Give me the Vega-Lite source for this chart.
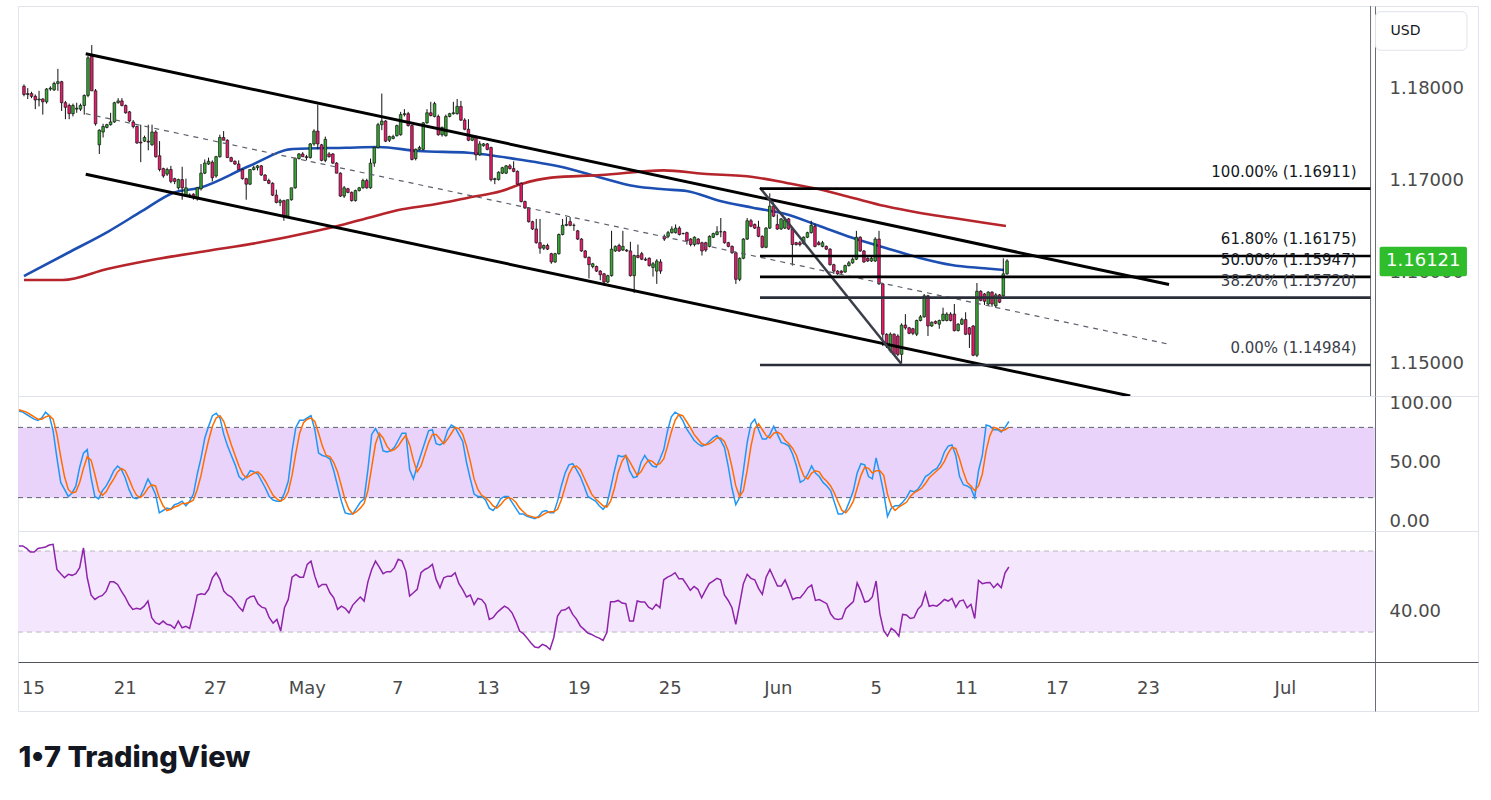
{
  "$schema": "https://vega.github.io/schema/vega-lite/v6.json",
  "padding": {"left": 15, "top": 5, "right": 0, "bottom": 0},
  "background": "white",
  "bounds": "flush",
  "spacing": 0,
  "title": {
    "text": "1•7  TradingView",
    "orient": "bottom",
    "anchor": "start",
    "font": "Inter",
    "fontSize": 29,
    "fontWeight": 800,
    "color": "#131722",
    "baseline": "top",
    "offset": 30,
    "dx": 3
  },
  "datasets": {
    "candles": [
      {"i":0,"o":1.1803,"h":1.1805,"l":1.1792,"c":1.1794,"k":94,"d":95,"r":72.5},
      {"i":1,"o":1.1794,"h":1.1801,"l":1.1789,"c":1.1795,"k":93,"d":94,"r":72.5},
      {"i":2,"o":1.1795,"h":1.1797,"l":1.179,"c":1.1792,"k":91,"d":93,"r":71.3},
      {"i":3,"o":1.1792,"h":1.1794,"l":1.1778,"c":1.1788,"k":89,"d":91,"r":69.5},
      {"i":4,"o":1.1788,"h":1.1798,"l":1.1781,"c":1.1789,"k":87,"d":89,"r":69.5},
      {"i":5,"o":1.1789,"h":1.179,"l":1.1772,"c":1.1786,"k":86,"d":87,"r":71.3},
      {"i":6,"o":1.1786,"h":1.1801,"l":1.1784,"c":1.18,"k":88,"d":87,"r":71.6},
      {"i":7,"o":1.18,"h":1.1803,"l":1.1798,"c":1.1801,"k":93,"d":89,"r":72},
      {"i":8,"o":1.1799,"h":1.1808,"l":1.1798,"c":1.1806,"k":90,"d":90,"r":73},
      {"i":9,"o":1.1806,"h":1.1822,"l":1.1798,"c":1.1808,"k":77,"d":87,"r":73.3},
      {"i":10,"o":1.1808,"h":1.1809,"l":1.1776,"c":1.1785,"k":54,"d":74,"r":60.9},
      {"i":11,"o":1.1785,"h":1.1787,"l":1.1767,"c":1.178,"k":33,"d":55,"r":58.8},
      {"i":12,"o":1.1782,"h":1.1784,"l":1.1767,"c":1.1773,"k":27,"d":38,"r":56.8},
      {"i":13,"o":1.1773,"h":1.1784,"l":1.177,"c":1.1782,"k":21,"d":27,"r":58.5},
      {"i":14,"o":1.1778,"h":1.1785,"l":1.1774,"c":1.1779,"k":24,"d":24,"r":58},
      {"i":15,"o":1.1778,"h":1.1784,"l":1.1776,"c":1.1782,"k":30,"d":25,"r":58.8},
      {"i":16,"o":1.1782,"h":1.1794,"l":1.1772,"c":1.1793,"k":46,"d":33,"r":61.8},
      {"i":17,"o":1.1793,"h":1.1836,"l":1.1791,"c":1.1834,"k":58,"d":45,"r":71.6},
      {"i":18,"o":1.1836,"h":1.1848,"l":1.1798,"c":1.1798,"k":61,"d":55,"r":56.8},
      {"i":19,"o":1.1798,"h":1.18,"l":1.176,"c":1.1762,"k":37,"d":52,"r":48.3},
      {"i":20,"o":1.1739,"h":1.1756,"l":1.1729,"c":1.1755,"k":21,"d":40,"r":46.1},
      {"i":21,"o":1.1753,"h":1.1762,"l":1.1747,"c":1.1759,"k":19,"d":26,"r":47.4},
      {"i":22,"o":1.1758,"h":1.1762,"l":1.1757,"c":1.1761,"k":26,"d":22,"r":48.1},
      {"i":23,"o":1.1761,"h":1.1774,"l":1.176,"c":1.1764,"k":30,"d":25,"r":50.2},
      {"i":24,"o":1.1764,"h":1.1786,"l":1.1763,"c":1.1785,"k":36,"d":31,"r":54.8},
      {"i":25,"o":1.1785,"h":1.179,"l":1.1784,"c":1.1787,"k":43,"d":36,"r":54.8},
      {"i":26,"o":1.1787,"h":1.179,"l":1.1781,"c":1.1782,"k":47,"d":42,"r":53.5},
      {"i":27,"o":1.1782,"h":1.1783,"l":1.1773,"c":1.1774,"k":44,"d":45,"r":50.2},
      {"i":28,"o":1.1775,"h":1.1776,"l":1.1764,"c":1.1765,"k":37,"d":43,"r":47.3},
      {"i":29,"o":1.1764,"h":1.1766,"l":1.1757,"c":1.1759,"k":27,"d":36,"r":43.6},
      {"i":30,"o":1.1759,"h":1.176,"l":1.174,"c":1.1741,"k":20,"d":28,"r":41.2},
      {"i":31,"o":1.1742,"h":1.1761,"l":1.172,"c":1.1741,"k":19,"d":22,"r":41.7},
      {"i":32,"o":1.1743,"h":1.1749,"l":1.1742,"c":1.1747,"k":21,"d":20,"r":41.3},
      {"i":33,"o":1.1743,"h":1.1761,"l":1.1733,"c":1.1742,"k":28,"d":23,"r":42.8},
      {"i":34,"o":1.1739,"h":1.1761,"l":1.1738,"c":1.1753,"k":36,"d":28,"r":45.3},
      {"i":35,"o":1.1753,"h":1.1755,"l":1.1725,"c":1.1726,"k":30,"d":31,"r":37.1},
      {"i":36,"o":1.1727,"h":1.1743,"l":1.171,"c":1.1712,"k":23,"d":30,"r":34.6},
      {"i":37,"o":1.1713,"h":1.1714,"l":1.1703,"c":1.1705,"k":7,"d":20,"r":33.8},
      {"i":38,"o":1.1707,"h":1.1714,"l":1.1705,"c":1.1712,"k":9,"d":13,"r":35.4},
      {"i":39,"o":1.1712,"h":1.1716,"l":1.1697,"c":1.1699,"k":11,"d":9,"r":33.8},
      {"i":40,"o":1.1702,"h":1.1703,"l":1.1696,"c":1.1699,"k":10,"d":10,"r":33.4},
      {"i":41,"o":1.1692,"h":1.1702,"l":1.169,"c":1.1701,"k":14,"d":12,"r":31.8},
      {"i":42,"o":1.1701,"h":1.1715,"l":1.1679,"c":1.1692,"k":15,"d":13,"r":35.4},
      {"i":43,"o":1.1683,"h":1.1702,"l":1.1682,"c":1.1692,"k":17,"d":15,"r":32.1},
      {"i":44,"o":1.1684,"h":1.1686,"l":1.1681,"c":1.1684,"k":13,"d":15,"r":32.8},
      {"i":45,"o":1.1685,"h":1.1686,"l":1.1679,"c":1.1681,"k":17,"d":16,"r":31.8},
      {"i":46,"o":1.168,"h":1.1693,"l":1.1678,"c":1.1692,"k":23,"d":18,"r":39.5},
      {"i":47,"o":1.1691,"h":1.1718,"l":1.1689,"c":1.1708,"k":40,"d":27,"r":48.3},
      {"i":48,"o":1.1708,"h":1.1723,"l":1.1707,"c":1.1719,"k":54,"d":39,"r":48.9},
      {"i":49,"o":1.1718,"h":1.1725,"l":1.1717,"c":1.1721,"k":71,"d":55,"r":48.6},
      {"i":50,"o":1.172,"h":1.1722,"l":1.1699,"c":1.1703,"k":81,"d":69,"r":51.1},
      {"i":51,"o":1.1705,"h":1.1727,"l":1.1703,"c":1.1726,"k":90,"d":81,"r":56.8},
      {"i":52,"o":1.1726,"h":1.175,"l":1.1725,"c":1.1747,"k":92,"d":88,"r":59.3},
      {"i":53,"o":1.1747,"h":1.1754,"l":1.1744,"c":1.1744,"k":88,"d":90,"r":56},
      {"i":54,"o":1.1744,"h":1.1745,"l":1.1725,"c":1.1725,"k":74,"d":85,"r":50.2},
      {"i":55,"o":1.1725,"h":1.1726,"l":1.172,"c":1.1721,"k":64,"d":75,"r":48.3},
      {"i":56,"o":1.1721,"h":1.1722,"l":1.1717,"c":1.1718,"k":56,"d":65,"r":47.3},
      {"i":57,"o":1.1718,"h":1.1722,"l":1.1712,"c":1.1712,"k":48,"d":56,"r":45},
      {"i":58,"o":1.1712,"h":1.1713,"l":1.1701,"c":1.1702,"k":38,"d":47,"r":42.3},
      {"i":59,"o":1.1702,"h":1.1703,"l":1.1679,"c":1.1696,"k":35,"d":40,"r":40.4},
      {"i":60,"o":1.1696,"h":1.1712,"l":1.1695,"c":1.1712,"k":38,"d":37,"r":46.1},
      {"i":61,"o":1.1712,"h":1.1716,"l":1.1711,"c":1.1714,"k":43,"d":39,"r":47.4},
      {"i":62,"o":1.1714,"h":1.1717,"l":1.1711,"c":1.1716,"k":42,"d":41,"r":47.8},
      {"i":63,"o":1.1716,"h":1.1717,"l":1.1705,"c":1.1706,"k":40,"d":42,"r":44},
      {"i":64,"o":1.1706,"h":1.1707,"l":1.17,"c":1.17,"k":34,"d":39,"r":42.3},
      {"i":65,"o":1.17,"h":1.1702,"l":1.1696,"c":1.1697,"k":28,"d":34,"r":41.7},
      {"i":66,"o":1.1697,"h":1.1698,"l":1.1683,"c":1.1684,"k":21,"d":28,"r":37.1},
      {"i":67,"o":1.1684,"h":1.169,"l":1.1675,"c":1.1676,"k":18,"d":22,"r":34.4},
      {"i":68,"o":1.1676,"h":1.168,"l":1.1672,"c":1.1678,"k":17,"d":19,"r":36.2},
      {"i":69,"o":1.1678,"h":1.1679,"l":1.1656,"c":1.1661,"k":17,"d":17,"r":30.5},
      {"i":70,"o":1.1661,"h":1.1679,"l":1.166,"c":1.1679,"k":24,"d":19,"r":42},
      {"i":71,"o":1.1679,"h":1.1692,"l":1.1678,"c":1.1692,"k":34,"d":25,"r":46.1},
      {"i":72,"o":1.1692,"h":1.1725,"l":1.1691,"c":1.1724,"k":60,"d":39,"r":57.1},
      {"i":73,"o":1.1724,"h":1.173,"l":1.1723,"c":1.1729,"k":80,"d":58,"r":58.5},
      {"i":74,"o":1.1729,"h":1.1731,"l":1.1726,"c":1.1726,"k":86,"d":75,"r":57.1},
      {"i":75,"o":1.1726,"h":1.1728,"l":1.1722,"c":1.1725,"k":86,"d":84,"r":57.1},
      {"i":76,"o":1.1725,"h":1.1741,"l":1.1724,"c":1.174,"k":88,"d":87,"r":63.4},
      {"i":77,"o":1.174,"h":1.1756,"l":1.1738,"c":1.1754,"k":90,"d":88,"r":65},
      {"i":78,"o":1.1754,"h":1.1783,"l":1.1734,"c":1.174,"k":78,"d":85,"r":57.6},
      {"i":79,"o":1.1739,"h":1.174,"l":1.1721,"c":1.1722,"k":58,"d":75,"r":52.2},
      {"i":80,"o":1.1722,"h":1.1748,"l":1.172,"c":1.1745,"k":56,"d":64,"r":53.5},
      {"i":81,"o":1.1729,"h":1.1731,"l":1.1725,"c":1.1726,"k":55,"d":56,"r":53.5},
      {"i":82,"o":1.1729,"h":1.173,"l":1.1718,"c":1.1719,"k":53,"d":55,"r":49.4},
      {"i":83,"o":1.1719,"h":1.172,"l":1.1708,"c":1.1708,"k":43,"d":50,"r":46.9},
      {"i":84,"o":1.1708,"h":1.1709,"l":1.1682,"c":1.1683,"k":30,"d":42,"r":41.2},
      {"i":85,"o":1.1683,"h":1.1694,"l":1.1681,"c":1.1692,"k":17,"d":30,"r":42.8},
      {"i":86,"o":1.1691,"h":1.1692,"l":1.1686,"c":1.1687,"k":7,"d":18,"r":41.7},
      {"i":87,"o":1.1687,"h":1.1688,"l":1.1677,"c":1.1678,"k":6,"d":10,"r":39.5},
      {"i":88,"o":1.1678,"h":1.169,"l":1.1677,"c":1.1689,"k":6,"d":6,"r":43.3},
      {"i":89,"o":1.1689,"h":1.1693,"l":1.1688,"c":1.1692,"k":11,"d":8,"r":45.3},
      {"i":90,"o":1.1692,"h":1.1702,"l":1.1691,"c":1.17,"k":16,"d":11,"r":47.3},
      {"i":91,"o":1.17,"h":1.1702,"l":1.1691,"c":1.1692,"k":19,"d":15,"r":45.3},
      {"i":92,"o":1.1692,"h":1.1724,"l":1.1691,"c":1.1719,"k":44,"d":26,"r":54.8},
      {"i":93,"o":1.1719,"h":1.1737,"l":1.1715,"c":1.1736,"k":74,"d":46,"r":60.9},
      {"i":94,"o":1.1736,"h":1.1763,"l":1.1735,"c":1.1761,"k":79,"d":66,"r":65},
      {"i":95,"o":1.1761,"h":1.1795,"l":1.1755,"c":1.1765,"k":73,"d":75,"r":62.1},
      {"i":96,"o":1.1765,"h":1.1766,"l":1.1742,"c":1.1743,"k":60,"d":71,"r":58.8},
      {"i":97,"o":1.1744,"h":1.1749,"l":1.1742,"c":1.1748,"k":59,"d":64,"r":59.8},
      {"i":98,"o":1.1746,"h":1.175,"l":1.1745,"c":1.1748,"k":60,"d":60,"r":59.8},
      {"i":99,"o":1.1749,"h":1.1761,"l":1.1748,"c":1.176,"k":63,"d":61,"r":61.8},
      {"i":100,"o":1.175,"h":1.1775,"l":1.1749,"c":1.1772,"k":69,"d":64,"r":65.9},
      {"i":101,"o":1.1772,"h":1.1778,"l":1.177,"c":1.1773,"k":75,"d":69,"r":65},
      {"i":102,"o":1.1773,"h":1.1775,"l":1.1759,"c":1.176,"k":75,"d":73,"r":60.1},
      {"i":103,"o":1.176,"h":1.1761,"l":1.1722,"c":1.1723,"k":44,"d":65,"r":47.8},
      {"i":104,"o":1.1724,"h":1.1735,"l":1.1722,"c":1.1734,"k":36,"d":52,"r":49.4},
      {"i":105,"o":1.1734,"h":1.1738,"l":1.1733,"c":1.1736,"k":47,"d":42,"r":51.1},
      {"i":106,"o":1.1734,"h":1.1764,"l":1.1733,"c":1.1763,"k":57,"d":47,"r":59.3},
      {"i":107,"o":1.1763,"h":1.1778,"l":1.1762,"c":1.1774,"k":67,"d":57,"r":60.9},
      {"i":108,"o":1.1774,"h":1.1786,"l":1.177,"c":1.1771,"k":77,"d":67,"r":61.8},
      {"i":109,"o":1.177,"h":1.1786,"l":1.1769,"c":1.1784,"k":78,"d":74,"r":63.4},
      {"i":110,"o":1.177,"h":1.1772,"l":1.1749,"c":1.175,"k":66,"d":74,"r":56},
      {"i":111,"o":1.175,"h":1.1759,"l":1.1748,"c":1.1758,"k":65,"d":70,"r":51.9},
      {"i":112,"o":1.1749,"h":1.1772,"l":1.1748,"c":1.177,"k":67,"d":66,"r":56.8},
      {"i":113,"o":1.177,"h":1.1774,"l":1.1769,"c":1.1773,"k":77,"d":70,"r":57.6},
      {"i":114,"o":1.1773,"h":1.1786,"l":1.1772,"c":1.1774,"k":82,"d":75,"r":57.6},
      {"i":115,"o":1.1773,"h":1.1789,"l":1.1772,"c":1.1781,"k":80,"d":80,"r":59.3},
      {"i":116,"o":1.1781,"h":1.1787,"l":1.1765,"c":1.1766,"k":74,"d":79,"r":53.9},
      {"i":117,"o":1.1766,"h":1.1768,"l":1.1755,"c":1.1756,"k":68,"d":74,"r":50.9},
      {"i":118,"o":1.1756,"h":1.1767,"l":1.1743,"c":1.1744,"k":50,"d":64,"r":47.3},
      {"i":119,"o":1.1744,"h":1.1748,"l":1.1743,"c":1.1747,"k":36,"d":51,"r":48.3},
      {"i":120,"o":1.1747,"h":1.1749,"l":1.1722,"c":1.1728,"k":23,"d":36,"r":43.6},
      {"i":121,"o":1.1728,"h":1.1743,"l":1.1727,"c":1.174,"k":21,"d":27,"r":46.6},
      {"i":122,"o":1.1738,"h":1.1741,"l":1.1737,"c":1.174,"k":21,"d":22,"r":46},
      {"i":123,"o":1.174,"h":1.1741,"l":1.1733,"c":1.1734,"k":18,"d":20,"r":43.7},
      {"i":124,"o":1.1736,"h":1.1737,"l":1.1699,"c":1.1701,"k":11,"d":17,"r":36.2},
      {"i":125,"o":1.1701,"h":1.1703,"l":1.1696,"c":1.1702,"k":9,"d":13,"r":37.1},
      {"i":126,"o":1.1701,"h":1.171,"l":1.17,"c":1.1709,"k":13,"d":11,"r":39.5},
      {"i":127,"o":1.1708,"h":1.1715,"l":1.1707,"c":1.1714,"k":19,"d":14,"r":41.2},
      {"i":128,"o":1.1708,"h":1.1717,"l":1.1707,"c":1.1716,"k":21,"d":18,"r":42.8},
      {"i":129,"o":1.1716,"h":1.1718,"l":1.1712,"c":1.1713,"k":21,"d":20,"r":41.7},
      {"i":130,"o":1.1713,"h":1.1721,"l":1.1709,"c":1.171,"k":16,"d":19,"r":39.5},
      {"i":131,"o":1.171,"h":1.1711,"l":1.1695,"c":1.1696,"k":11,"d":16,"r":35.4},
      {"i":132,"o":1.1697,"h":1.1698,"l":1.1676,"c":1.1677,"k":6,"d":11,"r":30.5},
      {"i":133,"o":1.1677,"h":1.1678,"l":1.1669,"c":1.167,"k":6,"d":8,"r":29.2},
      {"i":134,"o":1.167,"h":1.1671,"l":1.1654,"c":1.1655,"k":4,"d":5,"r":27},
      {"i":135,"o":1.1655,"h":1.1656,"l":1.1646,"c":1.1647,"k":3,"d":4,"r":24.6},
      {"i":136,"o":1.1647,"h":1.1658,"l":1.1631,"c":1.1632,"k":2,"d":3,"r":22.6},
      {"i":137,"o":1.1632,"h":1.1658,"l":1.162,"c":1.1626,"k":4,"d":3,"r":22.3},
      {"i":138,"o":1.1626,"h":1.163,"l":1.1624,"c":1.1629,"k":8,"d":5,"r":23.9},
      {"i":139,"o":1.1629,"h":1.1631,"l":1.1624,"c":1.1625,"k":9,"d":7,"r":23.1},
      {"i":140,"o":1.162,"h":1.1621,"l":1.1609,"c":1.1611,"k":7,"d":8,"r":21.4},
      {"i":141,"o":1.1611,"h":1.1621,"l":1.161,"c":1.162,"k":7,"d":8,"r":27.2},
      {"i":142,"o":1.162,"h":1.1642,"l":1.1619,"c":1.1641,"k":17,"d":10,"r":37.9},
      {"i":143,"o":1.1641,"h":1.1658,"l":1.164,"c":1.1651,"k":30,"d":18,"r":40.7},
      {"i":144,"o":1.1651,"h":1.166,"l":1.165,"c":1.1652,"k":41,"d":29,"r":41},
      {"i":145,"o":1.1655,"h":1.166,"l":1.165,"c":1.1651,"k":48,"d":40,"r":42.3},
      {"i":146,"o":1.1651,"h":1.1653,"l":1.1645,"c":1.1651,"k":49,"d":46,"r":38.7},
      {"i":147,"o":1.1645,"h":1.1646,"l":1.1635,"c":1.1636,"k":44,"d":47,"r":36.4},
      {"i":148,"o":1.1636,"h":1.1637,"l":1.1622,"c":1.1623,"k":38,"d":44,"r":33},
      {"i":149,"o":1.1623,"h":1.1624,"l":1.1615,"c":1.1616,"k":30,"d":37,"r":31.3},
      {"i":150,"o":1.1616,"h":1.1617,"l":1.1593,"c":1.1608,"k":21,"d":30,"r":29.5},
      {"i":151,"o":1.1606,"h":1.161,"l":1.1604,"c":1.1609,"k":19,"d":23,"r":28.8},
      {"i":152,"o":1.1606,"h":1.1607,"l":1.16,"c":1.1601,"k":17,"d":19,"r":27.7},
      {"i":153,"o":1.1601,"h":1.1602,"l":1.1591,"c":1.1597,"k":13,"d":16,"r":27},
      {"i":154,"o":1.1598,"h":1.1599,"l":1.1585,"c":1.1589,"k":10,"d":13,"r":25.9},
      {"i":155,"o":1.1589,"h":1.1597,"l":1.1588,"c":1.1596,"k":14,"d":12,"r":29.7},
      {"i":156,"o":1.1596,"h":1.1645,"l":1.1595,"c":1.1625,"k":28,"d":17,"r":45},
      {"i":157,"o":1.1623,"h":1.1629,"l":1.1622,"c":1.1628,"k":43,"d":28,"r":45},
      {"i":158,"o":1.1629,"h":1.1631,"l":1.1622,"c":1.1623,"k":56,"d":42,"r":45.6},
      {"i":159,"o":1.1624,"h":1.1645,"l":1.1623,"c":1.1628,"k":55,"d":51,"r":44.3},
      {"i":160,"o":1.1624,"h":1.1625,"l":1.1622,"c":1.1623,"k":56,"d":56,"r":44},
      {"i":161,"o":1.1623,"h":1.1633,"l":1.1595,"c":1.1596,"k":43,"d":51,"r":35.4},
      {"i":162,"o":1.1596,"h":1.1619,"l":1.1577,"c":1.1618,"k":37,"d":45,"r":35.4},
      {"i":163,"o":1.1618,"h":1.163,"l":1.1615,"c":1.1616,"k":38,"d":39,"r":45.3},
      {"i":164,"o":1.162,"h":1.1622,"l":1.1613,"c":1.1614,"k":50,"d":42,"r":44.8},
      {"i":165,"o":1.1614,"h":1.1616,"l":1.1612,"c":1.1613,"k":56,"d":48,"r":44.8},
      {"i":166,"o":1.1615,"h":1.1616,"l":1.1606,"c":1.1607,"k":51,"d":52,"r":42.3},
      {"i":167,"o":1.1605,"h":1.1611,"l":1.1595,"c":1.1609,"k":47,"d":51,"r":41.2},
      {"i":168,"o":1.1601,"h":1.1614,"l":1.1587,"c":1.1612,"k":46,"d":48,"r":43.7},
      {"i":169,"o":1.1611,"h":1.1614,"l":1.1598,"c":1.1601,"k":53,"d":49,"r":42},
      {"i":170,"o":1.1639,"h":1.1641,"l":1.1634,"c":1.1636,"k":61,"d":53,"r":55.8},
      {"i":171,"o":1.1639,"h":1.1645,"l":1.1637,"c":1.1643,"k":77,"d":64,"r":57.1},
      {"i":172,"o":1.1643,"h":1.165,"l":1.1642,"c":1.1647,"k":89,"d":76,"r":58},
      {"i":173,"o":1.1643,"h":1.1652,"l":1.1642,"c":1.1648,"k":93,"d":86,"r":59.3},
      {"i":174,"o":1.1648,"h":1.165,"l":1.164,"c":1.1641,"k":91,"d":91,"r":56.3},
      {"i":175,"o":1.1642,"h":1.1643,"l":1.1641,"c":1.1642,"k":86,"d":90,"r":56.3},
      {"i":176,"o":1.1643,"h":1.1644,"l":1.163,"c":1.1634,"k":79,"d":85,"r":53.5},
      {"i":177,"o":1.1636,"h":1.1637,"l":1.1628,"c":1.163,"k":74,"d":80,"r":50.6},
      {"i":178,"o":1.163,"h":1.1639,"l":1.1628,"c":1.1638,"k":69,"d":74,"r":52.5},
      {"i":179,"o":1.1636,"h":1.1637,"l":1.163,"c":1.1631,"k":66,"d":70,"r":51.1},
      {"i":180,"o":1.1632,"h":1.1633,"l":1.1618,"c":1.1623,"k":64,"d":66,"r":46.9},
      {"i":181,"o":1.1632,"h":1.1633,"l":1.1622,"c":1.1624,"k":65,"d":65,"r":50.6},
      {"i":182,"o":1.1628,"h":1.164,"l":1.1627,"c":1.1639,"k":68,"d":66,"r":53.9},
      {"i":183,"o":1.1638,"h":1.1643,"l":1.1637,"c":1.1642,"k":71,"d":68,"r":55.2},
      {"i":184,"o":1.1641,"h":1.165,"l":1.164,"c":1.1644,"k":73,"d":71,"r":56.5},
      {"i":185,"o":1.1644,"h":1.1659,"l":1.1638,"c":1.1644,"k":69,"d":71,"r":55.8},
      {"i":186,"o":1.1644,"h":1.1645,"l":1.1631,"c":1.1632,"k":63,"d":68,"r":48.3},
      {"i":187,"o":1.1632,"h":1.1633,"l":1.1627,"c":1.1628,"k":47,"d":60,"r":45.6},
      {"i":188,"o":1.1628,"h":1.1629,"l":1.162,"c":1.1621,"k":28,"d":46,"r":42},
      {"i":189,"o":1.1621,"h":1.1622,"l":1.1587,"c":1.1592,"k":14,"d":30,"r":33.8},
      {"i":190,"o":1.1592,"h":1.1616,"l":1.159,"c":1.1615,"k":20,"d":21,"r":43.7},
      {"i":191,"o":1.1615,"h":1.1637,"l":1.1614,"c":1.1636,"k":43,"d":26,"r":53.9},
      {"i":192,"o":1.1636,"h":1.1659,"l":1.1635,"c":1.1656,"k":67,"d":43,"r":58.5},
      {"i":193,"o":1.1656,"h":1.1658,"l":1.1649,"c":1.165,"k":83,"d":64,"r":56.5},
      {"i":194,"o":1.1652,"h":1.1653,"l":1.1647,"c":1.1648,"k":87,"d":79,"r":55.8},
      {"i":195,"o":1.1649,"h":1.1656,"l":1.1638,"c":1.1639,"k":78,"d":83,"r":51.6},
      {"i":196,"o":1.1639,"h":1.164,"l":1.1626,"c":1.1627,"k":70,"d":78,"r":48.6},
      {"i":197,"o":1.1627,"h":1.1649,"l":1.1626,"c":1.1648,"k":70,"d":73,"r":57.1},
      {"i":198,"o":1.1648,"h":1.1686,"l":1.1647,"c":1.1672,"k":74,"d":71,"r":60.9},
      {"i":199,"o":1.1672,"h":1.1676,"l":1.166,"c":1.1661,"k":81,"d":75,"r":56.8},
      {"i":200,"o":1.1652,"h":1.1663,"l":1.1646,"c":1.1647,"k":74,"d":76,"r":52.7},
      {"i":201,"o":1.1647,"h":1.1659,"l":1.1646,"c":1.1658,"k":67,"d":74,"r":52.7},
      {"i":202,"o":1.1648,"h":1.166,"l":1.1647,"c":1.1657,"k":66,"d":69,"r":55.7},
      {"i":203,"o":1.1658,"h":1.1659,"l":1.1646,"c":1.1647,"k":64,"d":66,"r":51.1},
      {"i":204,"o":1.1647,"h":1.1648,"l":1.1607,"c":1.163,"k":57,"d":62,"r":46.1},
      {"i":205,"o":1.1632,"h":1.1633,"l":1.1629,"c":1.163,"k":47,"d":56,"r":46.9},
      {"i":206,"o":1.1632,"h":1.1634,"l":1.1628,"c":1.163,"k":33,"d":46,"r":46.9},
      {"i":207,"o":1.1631,"h":1.1639,"l":1.163,"c":1.1638,"k":35,"d":38,"r":49.2},
      {"i":208,"o":1.1638,"h":1.1644,"l":1.1637,"c":1.1643,"k":40,"d":36,"r":51.9},
      {"i":209,"o":1.1643,"h":1.1656,"l":1.1642,"c":1.1651,"k":47,"d":41,"r":53.2},
      {"i":210,"o":1.165,"h":1.1653,"l":1.1627,"c":1.1628,"k":41,"d":43,"r":45.6},
      {"i":211,"o":1.1632,"h":1.1634,"l":1.1629,"c":1.163,"k":38,"d":42,"r":46},
      {"i":212,"o":1.1628,"h":1.1634,"l":1.1627,"c":1.1632,"k":33,"d":37,"r":45},
      {"i":213,"o":1.1628,"h":1.1629,"l":1.1624,"c":1.1625,"k":30,"d":34,"r":44},
      {"i":214,"o":1.1625,"h":1.1626,"l":1.1607,"c":1.1608,"k":26,"d":30,"r":39},
      {"i":215,"o":1.1608,"h":1.1609,"l":1.1598,"c":1.1601,"k":16,"d":24,"r":36.6},
      {"i":216,"o":1.1601,"h":1.1602,"l":1.1597,"c":1.1598,"k":6,"d":16,"r":36.2},
      {"i":217,"o":1.1601,"h":1.1602,"l":1.1598,"c":1.1599,"k":6,"d":9,"r":36.6},
      {"i":218,"o":1.16,"h":1.1608,"l":1.1599,"c":1.1607,"k":9,"d":7,"r":41.5},
      {"i":219,"o":1.1607,"h":1.1612,"l":1.1606,"c":1.161,"k":17,"d":11,"r":43.3},
      {"i":220,"o":1.161,"h":1.1616,"l":1.1609,"c":1.1614,"k":26,"d":17,"r":45},
      {"i":221,"o":1.1614,"h":1.1645,"l":1.1613,"c":1.1638,"k":41,"d":28,"r":54.3},
      {"i":222,"o":1.1638,"h":1.1639,"l":1.1622,"c":1.1623,"k":49,"d":39,"r":50.2},
      {"i":223,"o":1.1623,"h":1.1624,"l":1.161,"c":1.1611,"k":48,"d":46,"r":44.8},
      {"i":224,"o":1.1615,"h":1.1616,"l":1.1611,"c":1.1612,"k":38,"d":45,"r":45.3},
      {"i":225,"o":1.1612,"h":1.1617,"l":1.1611,"c":1.1615,"k":36,"d":41,"r":47.3},
      {"i":226,"o":1.1612,"h":1.1638,"l":1.1611,"c":1.1636,"k":54,"d":43,"r":55.2},
      {"i":227,"o":1.1636,"h":1.1645,"l":1.1586,"c":1.1587,"k":40,"d":43,"r":39},
      {"i":228,"o":1.1587,"h":1.1588,"l":1.1519,"c":1.1532,"k":24,"d":39,"r":30.8},
      {"i":229,"o":1.1532,"h":1.1533,"l":1.1517,"c":1.1519,"k":4,"d":23,"r":28},
      {"i":230,"o":1.1514,"h":1.1534,"l":1.1512,"c":1.1532,"k":11,"d":13,"r":31.8},
      {"i":231,"o":1.1532,"h":1.1533,"l":1.1509,"c":1.151,"k":13,"d":9,"r":30.5},
      {"i":232,"o":1.153,"h":1.1532,"l":1.1508,"c":1.151,"k":13,"d":12,"r":28},
      {"i":233,"o":1.151,"h":1.1544,"l":1.15,"c":1.1542,"k":16,"d":14,"r":38.7},
      {"i":234,"o":1.1542,"h":1.1554,"l":1.1537,"c":1.1539,"k":20,"d":16,"r":38.4},
      {"i":235,"o":1.1539,"h":1.154,"l":1.1532,"c":1.1533,"k":26,"d":21,"r":36.7},
      {"i":236,"o":1.1538,"h":1.1539,"l":1.1531,"c":1.1533,"k":25,"d":24,"r":37.1},
      {"i":237,"o":1.1532,"h":1.1548,"l":1.153,"c":1.1547,"k":27,"d":26,"r":41.2},
      {"i":238,"o":1.1547,"h":1.1553,"l":1.1546,"c":1.1551,"k":32,"d":28,"r":43.2},
      {"i":239,"o":1.1551,"h":1.1576,"l":1.155,"c":1.1574,"k":38,"d":32,"r":49.4},
      {"i":240,"o":1.1574,"h":1.1575,"l":1.153,"c":1.1541,"k":40,"d":37,"r":42.7},
      {"i":241,"o":1.1541,"h":1.1546,"l":1.154,"c":1.1545,"k":43,"d":40,"r":43.2},
      {"i":242,"o":1.1546,"h":1.1547,"l":1.1543,"c":1.1544,"k":45,"d":43,"r":42.8},
      {"i":243,"o":1.1543,"h":1.1548,"l":1.1538,"c":1.1547,"k":50,"d":46,"r":44.3},
      {"i":244,"o":1.1547,"h":1.1561,"l":1.1546,"c":1.1554,"k":59,"d":51,"r":46.1},
      {"i":245,"o":1.1547,"h":1.1556,"l":1.1546,"c":1.1554,"k":64,"d":58,"r":45.3},
      {"i":246,"o":1.1554,"h":1.1556,"l":1.1546,"c":1.1547,"k":65,"d":63,"r":46.6},
      {"i":247,"o":1.1554,"h":1.1565,"l":1.1535,"c":1.1536,"k":56,"d":62,"r":42.3},
      {"i":248,"o":1.1536,"h":1.1544,"l":1.1535,"c":1.1543,"k":38,"d":53,"r":45.3},
      {"i":249,"o":1.1543,"h":1.155,"l":1.1542,"c":1.1548,"k":31,"d":42,"r":45.8},
      {"i":250,"o":1.1548,"h":1.1556,"l":1.1531,"c":1.1532,"k":30,"d":33,"r":42},
      {"i":251,"o":1.1539,"h":1.154,"l":1.1517,"c":1.1532,"k":28,"d":30,"r":43.7},
      {"i":252,"o":1.1541,"h":1.1542,"l":1.1508,"c":1.1509,"k":20,"d":26,"r":36.7},
      {"i":253,"o":1.1509,"h":1.1588,"l":1.1507,"c":1.1579,"k":43,"d":30,"r":55.5},
      {"i":254,"o":1.1579,"h":1.158,"l":1.1568,"c":1.1569,"k":56,"d":40,"r":53.9},
      {"i":255,"o":1.1576,"h":1.1577,"l":1.1564,"c":1.1568,"k":82,"d":60,"r":54.3},
      {"i":256,"o":1.1565,"h":1.1579,"l":1.1563,"c":1.1578,"k":81,"d":73,"r":54.5},
      {"i":257,"o":1.1578,"h":1.1579,"l":1.1562,"c":1.1565,"k":78,"d":80,"r":51.9},
      {"i":258,"o":1.1563,"h":1.1577,"l":1.1561,"c":1.1575,"k":78,"d":79,"r":53.9},
      {"i":259,"o":1.1575,"h":1.1576,"l":1.1566,"c":1.1567,"k":76,"d":77,"r":51.9},
      {"i":260,"o":1.1574,"h":1.1615,"l":1.1573,"c":1.1598,"k":80,"d":78,"r":59.3},
      {"i":261,"o":1.1598,"h":1.1614,"l":1.1597,"c":1.16121,"k":85,"d":80,"r":62.1}
    ],
    "ma": [
      {"i":0,"p":1.15956,"s":"ma100"},{"i":11.6,"p":1.16208,"s":"ma100"},{"i":22.6,"p":1.16448,"s":"ma100"},
      {"i":31.4,"p":1.16667,"s":"ma100"},{"i":39.7,"p":1.16867,"s":"ma100"},{"i":46.7,"p":1.16921,"s":"ma100"},
      {"i":59.8,"p":1.17158,"s":"ma100"},{"i":71.4,"p":1.17344,"s":"ma100"},{"i":85.4,"p":1.17358,"s":"ma100"},
      {"i":94.1,"p":1.17366,"s":"ma100"},{"i":104.7,"p":1.17322,"s":"ma100"},{"i":117.9,"p":1.17304,"s":"ma100"},
      {"i":131,"p":1.17232,"s":"ma100"},{"i":144.2,"p":1.17133,"s":"ma100"},{"i":153.2,"p":1.17031,"s":"ma100"},
      {"i":161.9,"p":1.1694,"s":"ma100"},{"i":169.8,"p":1.16904,"s":"ma100"},{"i":175.9,"p":1.16885,"s":"ma100"},
      {"i":184.8,"p":1.16776,"s":"ma100"},{"i":193.5,"p":1.16703,"s":"ma100"},{"i":202.2,"p":1.16634,"s":"ma100"},
      {"i":211.2,"p":1.16503,"s":"ma100"},{"i":219.9,"p":1.16375,"s":"ma100"},{"i":228.6,"p":1.16266,"s":"ma100"},
      {"i":237.6,"p":1.16157,"s":"ma100"},{"i":246.3,"p":1.16077,"s":"ma100"},{"i":254.9,"p":1.16041,"s":"ma100"},
      {"i":260.2,"p":1.16022,"s":"ma100"},
      {"i":0,"p":1.15913,"s":"ma200"},{"i":10.3,"p":1.15913,"s":"ma200"},{"i":22.1,"p":1.16033,"s":"ma200"},
      {"i":35.3,"p":1.16142,"s":"ma200"},{"i":48.5,"p":1.1623,"s":"ma200"},{"i":61.7,"p":1.16317,"s":"ma200"},
      {"i":77.5,"p":1.16448,"s":"ma200"},{"i":85.4,"p":1.16525,"s":"ma200"},{"i":91.5,"p":1.16593,"s":"ma200"},
      {"i":100.4,"p":1.16685,"s":"ma200"},{"i":109.1,"p":1.1674,"s":"ma200"},{"i":117.9,"p":1.16812,"s":"ma200"},
      {"i":126.8,"p":1.16885,"s":"ma200"},{"i":132.1,"p":1.16962,"s":"ma200"},{"i":140,"p":1.17031,"s":"ma200"},
      {"i":153.2,"p":1.1706,"s":"ma200"},{"i":169.8,"p":1.17111,"s":"ma200"},{"i":180.3,"p":1.17074,"s":"ma200"},
      {"i":193.5,"p":1.17038,"s":"ma200"},{"i":202.2,"p":1.16976,"s":"ma200"},{"i":211.2,"p":1.16904,"s":"ma200"},
      {"i":219.9,"p":1.16812,"s":"ma200"},{"i":228.6,"p":1.16721,"s":"ma200"},{"i":237.6,"p":1.16648,"s":"ma200"},
      {"i":246.3,"p":1.16593,"s":"ma200"},{"i":254.9,"p":1.16539,"s":"ma200"},{"i":260.7,"p":1.16503,"s":"ma200"}
    ],
    "channel": [
      {"x1":16.4,"y1":1.18386,"x2":304,"y2":1.15863},
      {"x1":16.4,"y1":1.17068,"x2":293.7,"y2":1.14645}
    ],
    "fib": [
      {"p":1.16911,"t":"100.00% (1.16911)","g":"a"},
      {"p":1.16175,"t":"61.80% (1.16175)","g":"a"},
      {"p":1.15947,"t":"50.00% (1.15947)","g":"a"},
      {"p":1.1572,"t":"38.20% (1.15720)","g":"b"},
      {"p":1.14984,"t":"0.00% (1.14984)","g":"b"}
    ]
  },
  "vconcat": [
    {
      "width": 1460,
      "height": 390,
      "resolve": {"scale": {"color": "independent"}},
      "layer": [
        {
          "data": {"name": "ma"},
          "mark": {"type": "line", "strokeWidth": 2.6, "interpolate": "monotone", "clip": true},
          "encoding": {
            "x": {"field": "i", "type": "quantitative", "scale": {"domain": [-0.26, 384.7], "nice": false, "zero": false}, "axis": null},
            "y": {"field": "p", "type": "quantitative", "scale": {"domain": [1.14645, 1.18907], "nice": false, "zero": false},
              "axis": {"orient": "right", "offset": -103, "values": [1.15, 1.16, 1.17, 1.18], "format": ".5f", "labelAlign": "left", "labelPadding": 14, "domain": true, "title": null}},
            "color": {"field": "s", "type": "nominal", "scale": {"domain": ["ma100", "ma200"], "range": ["#1d4fb3", "#b5252b"]}, "legend": null}
          }
        },
        {
          "data": {"values": [{"v": 357.5}]},
          "mark": {"type": "rule", "color": "#6a6d78", "strokeWidth": 1},
          "encoding": {
            "x": {"field": "v", "type": "quantitative", "scale": {"domain": [-0.26, 384.7], "nice": false, "zero": false}, "axis": null}
          }
        },
        {
          "data": {"name": "candles"},
          "mark": {"type": "rule", "color": "#111111", "strokeWidth": 1},
          "encoding": {
            "x": {"field": "i", "type": "quantitative", "scale": {"domain": [-0.26, 384.7], "nice": false, "zero": false}, "axis": null},
            "y": {"field": "l", "type": "quantitative", "scale": {"domain": [1.14645, 1.18907], "nice": false, "zero": false}, "title": null},
            "y2": {"field": "h"}
          }
        },
        {
          "data": {"name": "candles"},
          "mark": {"type": "bar", "size": 2.6, "stroke": "#111111", "strokeWidth": 0.7},
          "encoding": {
            "x": {"field": "i", "type": "quantitative", "scale": {"domain": [-0.26, 384.7], "nice": false, "zero": false}, "axis": null},
            "y": {"field": "o", "type": "quantitative", "scale": {"domain": [1.14645, 1.18907], "nice": false, "zero": false}, "title": null},
            "y2": {"field": "c"},
            "fill": {"condition": {"test": "datum.c >= datum.o", "value": "#36a832"}, "value": "#f0176f"}
          }
        },
        {
          "data": {"name": "channel"},
          "mark": {"type": "rule", "color": "#000000", "strokeWidth": 3, "clip": true},
          "encoding": {
            "x": {"field": "x1", "type": "quantitative", "scale": {"domain": [-0.26, 384.7], "nice": false, "zero": false}, "axis": null},
            "x2": {"field": "x2"},
            "y": {"field": "y1", "type": "quantitative", "scale": {"domain": [1.14645, 1.18907], "nice": false, "zero": false}, "title": null},
            "y2": {"field": "y2"}
          }
        },
        {
          "data": {"values": [{"x1": 16.4, "y1": 1.1773, "x2": 303.7, "y2": 1.15213}]},
          "mark": {"type": "rule", "color": "#5d606b", "strokeWidth": 1.2, "strokeDash": [5, 5]},
          "encoding": {
            "x": {"field": "x1", "type": "quantitative", "scale": {"domain": [-0.26, 384.7], "nice": false, "zero": false}, "axis": null},
            "x2": {"field": "x2"},
            "y": {"field": "y1", "type": "quantitative", "scale": {"domain": [1.14645, 1.18907], "nice": false, "zero": false}, "title": null},
            "y2": {"field": "y2"}
          }
        },
        {
          "data": {"values": [{"x1": 195.4, "y1": 1.16921, "x2": 232.9, "y2": 1.14998}]},
          "mark": {"type": "rule", "color": "#3b3f4a", "strokeWidth": 2.5},
          "encoding": {
            "x": {"field": "x1", "type": "quantitative", "scale": {"domain": [-0.26, 384.7], "nice": false, "zero": false}, "axis": null},
            "x2": {"field": "x2"},
            "y": {"field": "y1", "type": "quantitative", "scale": {"domain": [1.14645, 1.18907], "nice": false, "zero": false}, "title": null},
            "y2": {"field": "y2"}
          }
        },
        {
          "data": {"name": "fib"},
          "mark": {"type": "rule", "strokeWidth": 2.6},
          "encoding": {
            "x": {"datum": 195.4, "type": "quantitative", "scale": {"domain": [-0.26, 384.7], "nice": false, "zero": false}, "axis": null},
            "x2": {"datum": 357.5},
            "y": {"field": "p", "type": "quantitative", "scale": {"domain": [1.14645, 1.18907], "nice": false, "zero": false}, "title": null},
            "color": {"field": "g", "type": "nominal", "scale": {"domain": ["a", "b"], "range": ["#000000", "#2a2e39"]}, "legend": null}
          }
        },
        {
          "data": {"name": "fib"},
          "mark": {"type": "text", "align": "right", "baseline": "middle", "dx": -14, "dy": -17, "font": "DejaVu Sans", "fontSize": 15},
          "encoding": {
            "x": {"datum": 357.5, "type": "quantitative", "scale": {"domain": [-0.26, 384.7], "nice": false, "zero": false}, "axis": null},
            "y": {"field": "p", "type": "quantitative", "scale": {"domain": [1.14645, 1.18907], "nice": false, "zero": false}, "title": null},
            "text": {"field": "t"},
            "color": {"field": "g", "type": "nominal", "scale": {"domain": ["a", "b"], "range": ["#131722", "#3a3e49"]}, "legend": null}
          }
        },
        {
          "data": {"values": [{"a": 359.9, "b": 383.1, "lo": 1.15953, "hi": 1.16277}]},
          "mark": {"type": "rect", "color": "#2fbd2b", "cornerRadius": 2},
          "encoding": {
            "x": {"field": "a", "type": "quantitative", "scale": {"domain": [-0.26, 384.7], "nice": false, "zero": false}, "axis": null},
            "x2": {"field": "b"},
            "y": {"field": "lo", "type": "quantitative", "scale": {"domain": [1.14645, 1.18907], "nice": false, "zero": false}, "title": null},
            "y2": {"field": "hi"}
          }
        },
        {
          "data": {"values": [{"a": 371.5, "p": 1.16115, "t": "1.16121"}]},
          "mark": {"type": "text", "align": "center", "baseline": "middle", "font": "DejaVu Sans", "fontSize": 18, "color": "#ffffff"},
          "encoding": {
            "x": {"field": "a", "type": "quantitative", "scale": {"domain": [-0.26, 384.7], "nice": false, "zero": false}, "axis": null},
            "y": {"field": "p", "type": "quantitative", "scale": {"domain": [1.14645, 1.18907], "nice": false, "zero": false}, "title": null},
            "text": {"field": "t"}
          }
        },
        {
          "data": {"values": [{"a": 358.8, "b": 383.1, "lo": 1.18423, "hi": 1.18845}]},
          "mark": {"type": "rect", "fill": "#ffffff", "stroke": "#e0e3eb", "strokeWidth": 1, "cornerRadius": 5},
          "encoding": {
            "x": {"field": "a", "type": "quantitative", "scale": {"domain": [-0.26, 384.7], "nice": false, "zero": false}, "axis": null},
            "x2": {"field": "b"},
            "y": {"field": "lo", "type": "quantitative", "scale": {"domain": [1.14645, 1.18907], "nice": false, "zero": false}, "title": null},
            "y2": {"field": "hi"}
          }
        },
        {
          "data": {"values": [{"a": 362.8, "p": 1.18639, "t": "USD"}]},
          "mark": {"type": "text", "align": "left", "baseline": "middle", "font": "DejaVu Sans", "fontSize": 14, "color": "#131722"},
          "encoding": {
            "x": {"field": "a", "type": "quantitative", "scale": {"domain": [-0.26, 384.7], "nice": false, "zero": false}, "axis": null},
            "y": {"field": "p", "type": "quantitative", "scale": {"domain": [1.14645, 1.18907], "nice": false, "zero": false}, "title": null},
            "text": {"field": "t"}
          }
        }
      ]
    },
    {
      "width": 1460,
      "height": 135,
      "layer": [
        {
          "data": {"values": [{"a": -0.26, "b": 357.5, "lo": 20, "hi": 80}]},
          "mark": {"type": "rect", "color": "#e9d3fb"},
          "encoding": {
            "x": {"field": "a", "type": "quantitative", "scale": {"domain": [-0.26, 384.7], "nice": false, "zero": false}, "axis": null},
            "x2": {"field": "b"},
            "y": {"field": "lo", "type": "quantitative", "scale": {"domain": [-8.5, 106.8], "nice": false, "zero": false},
              "axis": {"orient": "right", "offset": -103, "values": [0, 50, 100], "format": ".2f", "labelAlign": "left", "labelPadding": 14, "domain": true, "title": null}},
            "y2": {"field": "hi"}
          }
        },
        {
          "data": {"values": [{"v": 20}, {"v": 80}]},
          "mark": {"type": "rule", "color": "#5d606b", "strokeWidth": 1, "strokeDash": [5, 4]},
          "encoding": {
            "x": {"datum": -0.26, "type": "quantitative", "scale": {"domain": [-0.26, 384.7], "nice": false, "zero": false}, "axis": null},
            "x2": {"datum": 357.5},
            "y": {"field": "v", "type": "quantitative", "scale": {"domain": [-8.5, 106.8], "nice": false, "zero": false}, "title": null}
          }
        },
        {
          "data": {"name": "candles"},
          "mark": {"type": "line", "color": "#2196f3", "strokeWidth": 1.5},
          "encoding": {
            "x": {"field": "i", "type": "quantitative", "scale": {"domain": [-0.26, 384.7], "nice": false, "zero": false}, "axis": null},
            "y": {"field": "k", "type": "quantitative", "scale": {"domain": [-8.5, 106.8], "nice": false, "zero": false}, "title": null}
          }
        },
        {
          "data": {"name": "candles"},
          "mark": {"type": "line", "color": "#ff6d00", "strokeWidth": 1.5},
          "encoding": {
            "x": {"field": "i", "type": "quantitative", "scale": {"domain": [-0.26, 384.7], "nice": false, "zero": false}, "axis": null},
            "y": {"field": "d", "type": "quantitative", "scale": {"domain": [-8.5, 106.8], "nice": false, "zero": false}, "title": null}
          }
        }
      ]
    },
    {
      "width": 1460,
      "height": 131,
      "layer": [
        {
          "data": {"values": [{"a": -0.26, "b": 357.5, "lo": 30, "hi": 70}]},
          "mark": {"type": "rect", "color": "#f4e6fd"},
          "encoding": {
            "x": {"field": "a", "type": "quantitative", "scale": {"domain": [-0.26, 384.7], "nice": false, "zero": false}, "axis": null},
            "x2": {"field": "b"},
            "y": {"field": "lo", "type": "quantitative", "scale": {"domain": [15.2, 79.9], "nice": false, "zero": false},
              "axis": {"orient": "right", "offset": -103, "values": [40], "format": ".2f", "labelAlign": "left", "labelPadding": 14, "domain": true, "title": null}},
            "y2": {"field": "hi"}
          }
        },
        {
          "data": {"values": [{"v": 30}, {"v": 70}]},
          "mark": {"type": "rule", "color": "#b8b8c0", "strokeWidth": 1, "strokeDash": [5, 4]},
          "encoding": {
            "x": {"datum": -0.26, "type": "quantitative", "scale": {"domain": [-0.26, 384.7], "nice": false, "zero": false}, "axis": null},
            "x2": {"datum": 357.5},
            "y": {"field": "v", "type": "quantitative", "scale": {"domain": [15.2, 79.9], "nice": false, "zero": false}, "title": null}
          }
        },
        {
          "data": {"name": "candles"},
          "mark": {"type": "line", "color": "#8e24aa", "strokeWidth": 1.5},
          "encoding": {
            "x": {"field": "i", "type": "quantitative", "scale": {"domain": [-0.26, 384.7], "nice": false, "zero": false}, "axis": null},
            "y": {"field": "r", "type": "quantitative", "scale": {"domain": [15.2, 79.9], "nice": false, "zero": false}, "title": null}
          }
        }
      ]
    },
    {
      "width": 1460,
      "height": 49,
      "data": {"name": "candles"},
      "mark": {"type": "point", "opacity": 0},
      "encoding": {
        "x": {
          "field": "i", "type": "quantitative",
          "scale": {"domain": [-0.26, 384.7], "nice": false, "zero": false},
          "axis": {
            "orient": "bottom", "offset": -49, "domain": true, "domainColor": "#50535e", "labelPadding": 17,
            "values": [3.7, 27.9, 51.7, 75.9, 99.7, 123.6, 147.6, 171.6, 200.1, 225.9, 249.7, 273.7, 297.7, 333.8],
            "labelExpr": "['15','21','27','May','7','13','19','25','Jun','5','11','17','23','Jul'][indexof([3.7, 27.9, 51.7, 75.9, 99.7, 123.6, 147.6, 171.6, 200.1, 225.9, 249.7, 273.7, 297.7, 333.8], datum.value)]",
            "title": null
          }
        },
        "y": {
          "datum": 0, "type": "quantitative",
          "scale": {"domain": [0, 1]},
          "axis": {"orient": "right", "offset": -103, "labels": false, "domain": true, "title": null}
        }
      }
    }
  ],
  "config": {
    "view": {"stroke": "#e0e3eb"},
    "axis": {
      "grid": false,
      "ticks": false,
      "labelFont": "DejaVu Sans",
      "labelFontSize": 18,
      "labelColor": "#4a4a4a",
      "domainColor": "#6a6d78",
      "domainWidth": 1,
      "labelOverlap": false
    }
  }
}
